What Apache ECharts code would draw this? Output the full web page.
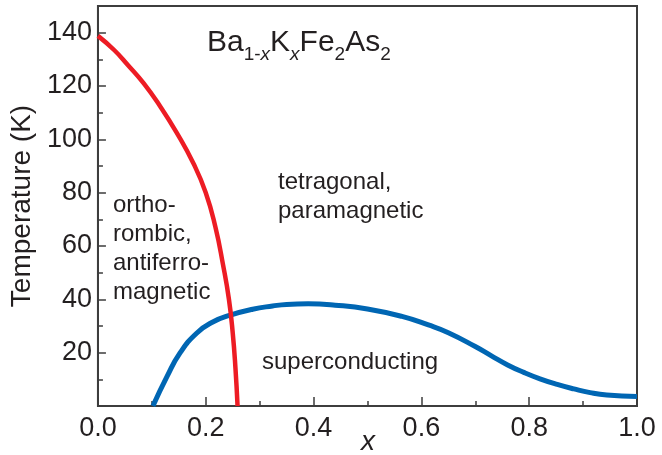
<!DOCTYPE html>
<html>
<head>
<meta charset="utf-8">
<script src="https://cdn.jsdelivr.net/npm/echarts@6/dist/echarts.min.js"></script>
<style>
  html, body { margin: 0; padding: 0; background: #fff; }
  #chart { width: 662px; height: 455px; }
</style>
</head>
<body>
<div id="chart"></div>
<script>
// Phase boundaries of Ba(1-x)K(x)Fe2As2: doping x vs temperature (K)
const afmX = [0, 0.03, 0.055, 0.085, 0.115, 0.146, 0.177, 0.2, 0.218, 0.232, 0.243, 0.25, 0.255, 0.259];
const afmT = [138.8, 133.5, 128, 121, 112.5, 102.5, 91, 80, 67, 53, 40, 27.5, 14.5, 0];

const scX = [0.102, 0.128, 0.152, 0.183, 0.214, 0.244, 0.287, 0.324, 0.35, 0.39, 0.44, 0.5, 0.564, 0.613, 0.65, 0.7, 0.73, 0.76, 0.79, 0.82, 0.852, 0.883, 0.913, 0.944, 1.0];
const scT = [0, 11, 19.8, 27.3, 31.6, 34, 36.3, 37.5, 38.1, 38.3, 37.8, 36.4, 33.6, 30.4, 27.5, 22.3, 18.8, 15.4, 12.6, 10.2, 8.1, 6.4, 5.0, 4.1, 3.6];

const yMajorTicks = [0, 20, 40, 60, 80, 100, 120, 140];
const yLabels = [20, 40, 60, 80, 100, 120, 140];
const yMinorTicks = [10, 30, 50, 70, 90, 110, 130];

// Chemical formula, split into normal-size and subscript pieces
const formulaParts = [
  { t: 'Ba', sub: false }, { t: '1-', sub: true }, { t: 'x', sub: true, it: true },
  { t: 'K', sub: false }, { t: 'x', sub: true, it: true },
  { t: 'Fe', sub: false }, { t: '2', sub: true },
  { t: 'As', sub: false }, { t: '2', sub: true }
];

const FONT = '"Liberation Sans", Arial, Helvetica, sans-serif';
const AX = '#3d3d3d';
const TXT = '#231f20';

const zip = (xs, ys) => xs.map((x, i) => [x, ys[i]]);

// Lay out the formula left to right, measuring each piece
function formulaGraphics(left, baseline) {
  const ctx = document.createElement('canvas').getContext('2d');
  const out = [];
  let x = left;
  formulaParts.forEach(p => {
    const size = p.sub ? 19 : 30;
    const style = p.it ? 'italic ' : '';
    ctx.font = style + size + 'px ' + FONT;
    const w = ctx.measureText(p.t).width;
    const base = p.sub ? baseline + 8.7 : baseline;
    out.push({
      type: 'text', z: 10, x: x, y: base - 0.31 * size,
      style: {
        text: p.t, fontSize: size, fontFamily: FONT, fontStyle: p.it ? 'italic' : 'normal',
        fill: TXT, verticalAlign: 'middle', align: 'left'
      }
    });
    x += w;
  });
  return out;
}

const chart = echarts.init(document.getElementById('chart'), null, { renderer: 'canvas' });

chart.setOption({
  animation: false,
  backgroundColor: '#fff',
  grid: {
    left: 94, top: 6, right: 25, bottom: 49,
    show: true, borderColor: AX, borderWidth: 2, backgroundColor: 'transparent'
  },
  xAxis: {
    type: 'value', min: 0, max: 1, interval: 0.2,
    axisLine: { show: true, onZero: false, lineStyle: { color: AX, width: 2 } },
    axisTick: { show: true, inside: true, length: 9, lineStyle: { color: AX, width: 1.5 } },
    minorTick: { show: true, splitNumber: 2, length: 5, lineStyle: { color: AX, width: 1.5 } },
    splitLine: { show: false },
    axisLabel: {
      margin: 9, fontSize: 27, color: TXT, fontFamily: FONT,
      formatter: v => v.toFixed(1)
    }
  },
  yAxis: [
    {
      type: 'value', min: 0, max: 150,
      axisLine: { show: true, onZero: false, lineStyle: { color: AX, width: 2 } },
      axisTick: { show: true, inside: true, length: 8, customValues: yMajorTicks, lineStyle: { color: AX, width: 1.5 } },
      splitLine: { show: false },
      axisLabel: { margin: 6, fontSize: 27, color: TXT, fontFamily: FONT, customValues: yLabels },
      name: 'Temperature (K)', nameLocation: 'middle', nameGap: 57,
      nameTextStyle: { fontSize: 28, color: TXT, fontFamily: FONT }
    },
    {
      type: 'value', min: 0, max: 150, position: 'left',
      axisLine: { show: false },
      axisTick: { show: true, inside: true, length: 5, customValues: yMinorTicks, lineStyle: { color: AX, width: 1.5 } },
      splitLine: { show: false },
      axisLabel: { show: false }
    }
  ],
  series: [
    {
      name: 'superconducting', type: 'line', data: zip(scX, scT),
      smooth: 0.5, showSymbol: false, clip: false,
      lineStyle: { color: '#0066b3', width: 5 }
    },
    {
      name: 'antiferromagnetic', type: 'line', data: zip(afmX, afmT),
      smooth: 0.5, showSymbol: false, clip: false,
      lineStyle: { color: '#ed1c24', width: 4.5 }
    }
  ],
  graphic: formulaGraphics(207, 52).concat([
    {
      type: 'text', left: 113, top: 191, z: 10,
      style: { text: 'ortho-\nrombic,\nantiferro-\nmagnetic', fontSize: 24, lineHeight: 29, fontFamily: FONT, fill: TXT }
    },
    {
      type: 'text', left: 278, top: 168, z: 10,
      style: { text: 'tetragonal,\nparamagnetic', fontSize: 24, lineHeight: 29, fontFamily: FONT, fill: TXT }
    },
    {
      type: 'text', left: 262, top: 350, z: 10,
      style: { text: 'superconducting', fontSize: 24, fontFamily: FONT, fill: TXT }
    },
    {
      type: 'text', left: 361, top: 428, z: 10,
      style: { text: 'x', fontSize: 28, fontStyle: 'italic', fontFamily: FONT, fill: TXT }
    }
  ])
});
</script>
</body>
</html>
